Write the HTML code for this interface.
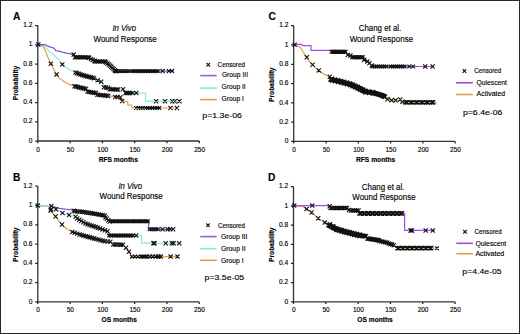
<!DOCTYPE html><html><head><meta charset="utf-8"><style>html,body{margin:0;padding:0;background:#fff;overflow:hidden;width:520px;height:334px;}svg{display:block;}text{font-family:"Liberation Sans",sans-serif;fill:#000;stroke:#000;stroke-width:0.14px;}</style></head><body>
<svg width="520" height="334" viewBox="0 0 520 334">
<rect x="0" y="0" width="520" height="334" fill="#fff"/>
<rect x="5.5" y="5.5" width="512" height="324" fill="none" stroke="#f8f8f8" stroke-width="1"/>
<rect x="0.5" y="0.5" width="519" height="333" fill="none" stroke="#262626" stroke-width="1"/>
<path d="M37.8 25.5V141" stroke="#333333" stroke-width="1.3" fill="none"/>
<path d="M37.8 141H199.3" stroke="#333333" stroke-width="1.3" fill="none"/>
<path d="M35.2 141H37.8M35.2 121.75H37.8M35.2 102.5H37.8M35.2 83.25H37.8M35.2 64H37.8M35.2 44.75H37.8M35.2 25.5H37.8M37.8 141V143.2M70.1 141V143.2M102.4 141V143.2M134.7 141V143.2M167 141V143.2M199.3 141V143.2" stroke="#222" stroke-width="1.25" fill="none"/>
<text x="32.5" y="142.7" font-size="6.6" font-weight="normal" font-style="normal" text-anchor="end">0</text>
<text x="32.5" y="123.45" font-size="6.6" font-weight="normal" font-style="normal" text-anchor="end">0.2</text>
<text x="32.5" y="104.2" font-size="6.6" font-weight="normal" font-style="normal" text-anchor="end">0.4</text>
<text x="32.5" y="84.95" font-size="6.6" font-weight="normal" font-style="normal" text-anchor="end">0.6</text>
<text x="32.5" y="65.7" font-size="6.6" font-weight="normal" font-style="normal" text-anchor="end">0.8</text>
<text x="32.5" y="46.45" font-size="6.6" font-weight="normal" font-style="normal" text-anchor="end">1</text>
<text x="32.5" y="27.2" font-size="6.6" font-weight="normal" font-style="normal" text-anchor="end">1.2</text>
<text x="38.1" y="151.7" font-size="6.5" font-weight="normal" font-style="normal" text-anchor="middle">0</text>
<text x="70.4" y="151.7" font-size="6.5" font-weight="normal" font-style="normal" text-anchor="middle">50</text>
<text x="102.7" y="151.7" font-size="6.5" font-weight="normal" font-style="normal" text-anchor="middle">100</text>
<text x="135" y="151.7" font-size="6.5" font-weight="normal" font-style="normal" text-anchor="middle">150</text>
<text x="167.3" y="151.7" font-size="6.5" font-weight="normal" font-style="normal" text-anchor="middle">200</text>
<text x="199.6" y="151.7" font-size="6.5" font-weight="normal" font-style="normal" text-anchor="middle">250</text>
<text x="98.7" y="161.5" font-size="6.5" font-weight="bold" font-style="normal" text-anchor="start" textLength="39.2" lengthAdjust="spacingAndGlyphs">RFS months</text>
<text x="13" y="19.6" font-size="10.2" font-weight="bold" font-style="normal" text-anchor="start">A</text>
<text x="0" y="0" font-size="6.6" font-weight="bold" font-style="normal" text-anchor="start" textLength="34.6" lengthAdjust="spacingAndGlyphs" transform="translate(17.9 100.3) rotate(-90)">Probability</text>
<text x="112.4" y="31.4" font-size="8.3" font-weight="normal" font-style="italic" text-anchor="start" textLength="23.6" lengthAdjust="spacingAndGlyphs">In Vivo</text>
<text x="93.5" y="41.8" font-size="8.3" font-weight="normal" font-style="normal" text-anchor="start" textLength="63.3" lengthAdjust="spacingAndGlyphs">Wound Response</text>
<text x="217.6" y="67" font-size="6.4" font-weight="normal" font-style="normal" text-anchor="start" textLength="27.3" lengthAdjust="spacingAndGlyphs">Censored</text>
<path d="M200.2 75.6H216.7" stroke="#9868d0" stroke-width="1.7"/>
<text x="221.9" y="77" font-size="7" font-weight="normal" font-style="normal" text-anchor="start" textLength="26.1" lengthAdjust="spacingAndGlyphs">Group III</text>
<path d="M200.2 88.1H216.7" stroke="#8ee6dc" stroke-width="1.6"/>
<text x="221.6" y="88.7" font-size="7" font-weight="normal" font-style="normal" text-anchor="start" textLength="24.1" lengthAdjust="spacingAndGlyphs">Group II</text>
<path d="M200.2 99.6H216.7" stroke="#e0a048" stroke-width="1.6"/>
<text x="221.6" y="100.8" font-size="7" font-weight="normal" font-style="normal" text-anchor="start" textLength="22.4" lengthAdjust="spacingAndGlyphs">Group I</text>
<text x="202.3" y="117.6" font-size="8.1" font-weight="normal" font-style="normal" text-anchor="start" textLength="39.7" lengthAdjust="spacingAndGlyphs">p=1.3e-06</text>
<polyline points="38,44.6 41,45.2 44.6,46.6 48.5,50.6 55,55.8 59,59.8 62.3,64.4 66.3,67.7 72.2,71 75.5,72.5 80.5,74.5 94,78.3 97.7,80.2 102.5,81.7 103.5,87.2 108.5,87.8 118,89.5 123.5,89.5 124.5,93.1 145.5,93.1 145.5,101.2 180,101.2" fill="none" stroke="#8ee6dc" stroke-width="1.2" stroke-linejoin="round"/>
<polyline points="38,44.6 41,45.2 43.3,46.6 45.9,51.9 47.9,57.2 51.2,63.7 53.1,67.7 56.4,74.3 59,77.6 63,80.8 67,83.5 72.2,85.4 75.5,86.5 86,89 87.5,91.6 96,93 97.5,94.8 107.7,95.8 120.6,97.2 121.5,101.3 127.8,101.5 127.8,105 132,105 132,108 178,108" fill="none" stroke="#e0a048" stroke-width="1.2" stroke-linejoin="round"/>
<polyline points="38,44.6 45.2,44.6 47.5,46.2 51.4,47.3 53.7,48 56,50.8 59,51.2 63,52.3 66.8,53.1 70.6,53.8 73.7,54.6 75,57.2 88,57.4 91,59 94.6,61.2 105.5,61.6 108,63 110,65.5 113.6,69 115.5,71.1 174,71.1" fill="none" stroke="#8c4cc8" stroke-width="1.2" stroke-linejoin="round"/>
<path d="M206.5 62.9L210.1 66.5M206.5 66.5L210.1 62.9M36.2 42.3L40.4 46.5M36.2 46.5L40.4 42.3M71.6 52.5L75.8 56.7M71.6 56.7L75.8 52.5M72.9 55.1L77.1 59.3M72.9 59.3L77.1 55.1M74.53 55.12L78.72 59.33M74.53 59.33L78.72 55.12M76.15 55.15L80.35 59.35M76.15 59.35L80.35 55.15M77.78 55.17L81.97 59.38M77.78 59.38L81.97 55.17M79.4 55.2L83.6 59.4M79.4 59.4L83.6 55.2M81.03 55.23L85.22 59.43M81.03 59.43L85.22 55.23M82.65 55.25L86.85 59.45M82.65 59.45L86.85 55.25M84.28 55.27L88.47 59.48M84.28 59.48L88.47 55.27M85.9 55.3L90.1 59.5M85.9 59.5L90.1 55.3M86.9 55.7L91.1 59.9M86.9 59.9L91.1 55.7M88.9 56.9L93.1 61.1M88.9 61.1L93.1 56.9M90.7 57.8L94.9 62M90.7 62L94.9 57.8M92.5 58.7L96.7 62.9M92.5 62.9L96.7 58.7M92.9 59.3L97.1 63.5M92.9 63.5L97.1 59.3M94.57 59.33L98.77 63.53M94.57 63.53L98.77 59.33M96.23 59.37L100.43 63.57M96.23 63.57L100.43 59.37M97.9 59.4L102.1 63.6M97.9 63.6L102.1 59.4M99.57 59.43L103.77 63.63M99.57 63.63L103.77 59.43M101.23 59.47L105.43 63.67M101.23 63.67L105.43 59.47M102.9 59.5L107.1 63.7M102.9 63.7L107.1 59.5M103.9 60.4L108.1 64.6M103.9 64.6L108.1 60.4M105.4 61.4L109.6 65.6M105.4 65.6L109.6 61.4M106.9 62.4L111.1 66.6M106.9 66.6L111.1 62.4M108.05 63.52L112.25 67.72M108.05 67.72L112.25 63.52M109.2 64.65L113.4 68.85M109.2 68.85L113.4 64.65M110.35 65.78L114.55 69.97M110.35 69.97L114.55 65.78M111.5 66.9L115.7 71.1M111.5 71.1L115.7 66.9M112.7 68.05L116.9 72.25M112.7 72.25L116.9 68.05M113.9 69.2L118.1 73.4M113.9 73.4L118.1 69.2M113.2 69.3L116.8 72.9M113.2 72.9L116.8 69.3M114.92 69.3L118.52 72.9M114.92 72.9L118.52 69.3M116.65 69.3L120.25 72.9M116.65 72.9L120.25 69.3M118.38 69.3L121.98 72.9M118.38 72.9L121.98 69.3M120.1 69.3L123.7 72.9M120.1 72.9L123.7 69.3M121.83 69.3L125.42 72.9M121.83 72.9L125.42 69.3M123.55 69.3L127.15 72.9M123.55 72.9L127.15 69.3M125.28 69.3L128.88 72.9M125.28 72.9L128.88 69.3M127 69.3L130.6 72.9M127 72.9L130.6 69.3M129.7 69.3L133.3 72.9M129.7 72.9L133.3 69.3M131.36 69.3L134.96 72.9M131.36 72.9L134.96 69.3M133.01 69.3L136.61 72.9M133.01 72.9L136.61 69.3M134.67 69.3L138.27 72.9M134.67 72.9L138.27 69.3M136.32 69.3L139.93 72.9M136.32 72.9L139.93 69.3M137.98 69.3L141.58 72.9M137.98 72.9L141.58 69.3M139.64 69.3L143.24 72.9M139.64 72.9L143.24 69.3M141.29 69.3L144.89 72.9M141.29 72.9L144.89 69.3M142.95 69.3L146.55 72.9M142.95 72.9L146.55 69.3M144.61 69.3L148.21 72.9M144.61 72.9L148.21 69.3M146.26 69.3L149.86 72.9M146.26 72.9L149.86 69.3M147.92 69.3L151.52 72.9M147.92 72.9L151.52 69.3M149.57 69.3L153.18 72.9M149.57 72.9L153.18 69.3M151.23 69.3L154.83 72.9M151.23 72.9L154.83 69.3M152.89 69.3L156.49 72.9M152.89 72.9L156.49 69.3M154.54 69.3L158.14 72.9M154.54 72.9L158.14 69.3M156.2 69.3L159.8 72.9M156.2 72.9L159.8 69.3M160.5 69L164.7 73.2M160.5 73.2L164.7 69M166.8 69L171 73.2M166.8 73.2L171 69M169.9 69L174.1 73.2M169.9 73.2L174.1 69M60.2 62.3L64.4 66.5M60.2 66.5L64.4 62.3M73.4 70.4L77.6 74.6M73.4 74.6L77.6 70.4M74.9 71.1L79.1 75.3M74.9 75.3L79.1 71.1M76.65 71.75L80.85 75.95M76.65 75.95L80.85 71.75M78.4 72.4L82.6 76.6M78.4 76.6L82.6 72.4M80.09 72.88L84.29 77.07M80.09 77.07L84.29 72.88M81.78 73.35L85.97 77.55M81.78 77.55L85.97 73.35M83.46 73.83L87.66 78.02M83.46 78.02L87.66 73.83M85.15 74.3L89.35 78.5M85.15 78.5L89.35 74.3M86.84 74.78L91.04 78.97M86.84 78.97L91.04 74.78M88.53 75.25L92.72 79.45M88.53 79.45L92.72 75.25M90.21 75.73L94.41 79.92M90.21 79.92L94.41 75.73M91.9 76.2L96.1 80.4M91.9 80.4L96.1 76.2M95.6 78.1L99.8 82.3M95.6 82.3L99.8 78.1M99.1 79.6L103.3 83.8M99.1 83.8L103.3 79.6M101.8 85.1L106 89.3M101.8 89.3L106 85.1M103.9 85.4L108.1 89.6M103.9 89.6L108.1 85.4M106.1 85.7L110.3 89.9M106.1 89.9L110.3 85.7M107.7 87.1L111.9 91.3M107.7 91.3L111.9 87.1M109.34 87.18L113.54 91.38M109.34 91.38L113.54 87.18M110.98 87.26L115.18 91.46M110.98 91.46L115.18 87.26M112.62 87.34L116.82 91.54M112.62 91.54L116.82 87.34M114.26 87.42L118.46 91.62M114.26 91.62L118.46 87.42M115.9 87.5L120.1 91.7M115.9 91.7L120.1 87.5M121 87.2L125.2 91.4M121 91.4L125.2 87.2M123.4 90.9L127.6 95.1M123.4 95.1L127.6 90.9M124.97 90.9L129.17 95.1M124.97 95.1L129.17 90.9M126.53 90.9L130.73 95.1M126.53 95.1L130.73 90.9M128.1 90.9L132.3 95.1M128.1 95.1L132.3 90.9M130.5 90.8L134.7 95M130.5 95L134.7 90.8M134.2 90.8L138.4 95M134.2 95L138.4 90.8M154.1 99.1L158.3 103.3M154.1 103.3L158.3 99.1M162.9 99.1L167.1 103.3M162.9 103.3L167.1 99.1M170.2 99.1L174.4 103.3M170.2 103.3L174.4 99.1M172.6 99.1L176.8 103.3M172.6 103.3L176.8 99.1M177.4 99.1L181.6 103.3M177.4 103.3L181.6 99.1M48.7 61.6L52.9 65.8M48.7 65.8L52.9 61.6M54.5 72.3L58.7 76.5M54.5 76.5L58.7 72.3M72.4 84.1L76.6 88.3M72.4 88.3L76.6 84.1M74.04 84.5L78.24 88.7M74.04 88.7L78.24 84.5M75.69 84.9L79.89 89.1M75.69 89.1L79.89 84.9M77.33 85.3L81.53 89.5M77.33 89.5L81.53 85.3M78.97 85.7L83.17 89.9M78.97 89.9L83.17 85.7M80.61 86.1L84.81 90.3M80.61 90.3L84.81 86.1M82.26 86.5L86.46 90.7M82.26 90.7L86.46 86.5M83.9 86.9L88.1 91.1M83.9 91.1L88.1 86.9M85.4 89.5L89.6 93.7M85.4 93.7L89.6 89.5M87.1 89.78L91.3 93.98M87.1 93.98L91.3 89.78M88.8 90.06L93 94.26M88.8 94.26L93 90.06M90.5 90.34L94.7 94.54M90.5 94.54L94.7 90.34M92.2 90.62L96.4 94.82M92.2 94.82L96.4 90.62M93.9 90.9L98.1 95.1M93.9 95.1L98.1 90.9M95.4 92.7L99.6 96.9M95.4 96.9L99.6 92.7M97.22 92.86L101.42 97.06M97.22 97.06L101.42 92.86M99.04 93.02L103.24 97.22M99.04 97.22L103.24 93.02M100.86 93.18L105.06 97.38M100.86 97.38L105.06 93.18M102.68 93.34L106.88 97.54M102.68 97.54L106.88 93.34M104.5 93.5L108.7 97.7M104.5 97.7L108.7 93.5M106.1 93.9L110.3 98.1M106.1 98.1L110.3 93.9M113.1 94.9L117.3 99.1M113.1 99.1L117.3 94.9M115.5 94.9L119.7 99.1M115.5 99.1L119.7 94.9M118.3 95.1L122.5 99.3M118.3 99.3L122.5 95.1M120.1 99L124.3 103.2M120.1 103.2L124.3 99M134.1 106.1L137.9 109.9M134.1 109.9L137.9 106.1M136.44 106.1L140.24 109.9M136.44 109.9L140.24 106.1M138.78 106.1L142.58 109.9M138.78 109.9L142.58 106.1M141.12 106.1L144.92 109.9M141.12 109.9L144.92 106.1M143.46 106.1L147.26 109.9M143.46 109.9L147.26 106.1M145.8 106.1L149.6 109.9M145.8 109.9L149.6 106.1M148.14 106.1L151.94 109.9M148.14 109.9L151.94 106.1M150.48 106.1L154.28 109.9M150.48 109.9L154.28 106.1M152.82 106.1L156.62 109.9M152.82 109.9L156.62 106.1M155.16 106.1L158.96 109.9M155.16 109.9L158.96 106.1M157.5 106.1L161.3 109.9M157.5 109.9L161.3 106.1M168.4 105.9L172.6 110.1M168.4 110.1L172.6 105.9M174.9 105.9L179.1 110.1M174.9 110.1L179.1 105.9" stroke="#111111" stroke-width="1.1" fill="none"/>
<path d="M37.8 186.2V301.9" stroke="#333333" stroke-width="1.3" fill="none"/>
<path d="M37.8 301.9H199.2" stroke="#333333" stroke-width="1.3" fill="none"/>
<path d="M35.2 301.9H37.8M35.2 282.62H37.8M35.2 263.33H37.8M35.2 244.05H37.8M35.2 224.77H37.8M35.2 205.48H37.8M35.2 186.2H37.8M37.8 301.9V304.1M70.08 301.9V304.1M102.36 301.9V304.1M134.64 301.9V304.1M166.92 301.9V304.1M199.2 301.9V304.1" stroke="#222" stroke-width="1.25" fill="none"/>
<text x="32.5" y="303.6" font-size="6.6" font-weight="normal" font-style="normal" text-anchor="end">0</text>
<text x="32.5" y="284.32" font-size="6.6" font-weight="normal" font-style="normal" text-anchor="end">0.2</text>
<text x="32.5" y="265.03" font-size="6.6" font-weight="normal" font-style="normal" text-anchor="end">0.4</text>
<text x="32.5" y="245.75" font-size="6.6" font-weight="normal" font-style="normal" text-anchor="end">0.6</text>
<text x="32.5" y="226.47" font-size="6.6" font-weight="normal" font-style="normal" text-anchor="end">0.8</text>
<text x="32.5" y="207.18" font-size="6.6" font-weight="normal" font-style="normal" text-anchor="end">1</text>
<text x="32.5" y="187.9" font-size="6.6" font-weight="normal" font-style="normal" text-anchor="end">1.2</text>
<text x="38.1" y="311.8" font-size="6.5" font-weight="normal" font-style="normal" text-anchor="middle">0</text>
<text x="70.38" y="311.8" font-size="6.5" font-weight="normal" font-style="normal" text-anchor="middle">50</text>
<text x="102.66" y="311.8" font-size="6.5" font-weight="normal" font-style="normal" text-anchor="middle">100</text>
<text x="134.94" y="311.8" font-size="6.5" font-weight="normal" font-style="normal" text-anchor="middle">150</text>
<text x="167.22" y="311.8" font-size="6.5" font-weight="normal" font-style="normal" text-anchor="middle">200</text>
<text x="199.5" y="311.8" font-size="6.5" font-weight="normal" font-style="normal" text-anchor="middle">250</text>
<text x="101.5" y="321.5" font-size="6.5" font-weight="bold" font-style="normal" text-anchor="start" textLength="35.5" lengthAdjust="spacingAndGlyphs">OS months</text>
<text x="13" y="181.3" font-size="10.2" font-weight="bold" font-style="normal" text-anchor="start">B</text>
<text x="0" y="0" font-size="6.6" font-weight="bold" font-style="normal" text-anchor="start" textLength="34.6" lengthAdjust="spacingAndGlyphs" transform="translate(17.9 262.0) rotate(-90)">Probability</text>
<text x="118.4" y="189" font-size="8.3" font-weight="normal" font-style="italic" text-anchor="start" textLength="23.6" lengthAdjust="spacingAndGlyphs">In Vivo</text>
<text x="99.5" y="199.4" font-size="8.3" font-weight="normal" font-style="normal" text-anchor="start" textLength="63.3" lengthAdjust="spacingAndGlyphs">Wound Response</text>
<text x="218" y="227.9" font-size="6.4" font-weight="normal" font-style="normal" text-anchor="start" textLength="27" lengthAdjust="spacingAndGlyphs">Censored</text>
<path d="M200.2 236.6H216.7" stroke="#9868d0" stroke-width="1.7"/>
<text x="220.9" y="239.1" font-size="7" font-weight="normal" font-style="normal" text-anchor="start" textLength="26.5" lengthAdjust="spacingAndGlyphs">Group III</text>
<path d="M200.2 248.7H216.7" stroke="#8ee6dc" stroke-width="1.6"/>
<text x="220.9" y="251" font-size="7" font-weight="normal" font-style="normal" text-anchor="start" textLength="24.8" lengthAdjust="spacingAndGlyphs">Group II</text>
<path d="M200.2 260.3H216.7" stroke="#e0a048" stroke-width="1.6"/>
<text x="220.9" y="263" font-size="7" font-weight="normal" font-style="normal" text-anchor="start" textLength="22.7" lengthAdjust="spacingAndGlyphs">Group I</text>
<text x="204.6" y="279.8" font-size="8.1" font-weight="normal" font-style="normal" text-anchor="start" textLength="39.6" lengthAdjust="spacingAndGlyphs">p=3.5e-05</text>
<polyline points="38,205.7 50,205.7 51,208.5 56,209.4 62.5,213 69,215 75.2,216.5 77.2,218.5 85.5,223.5 100,228.5 107.5,231 110,235.6 141.5,235.6 141.5,243.2 181,243.2" fill="none" stroke="#8ee6dc" stroke-width="1.2" stroke-linejoin="round"/>
<polyline points="38,205.7 50,205.7 50.6,210.3 55.6,216.5 58.3,220.3 62,224.5 65,227.5 68.7,230 72.3,231.7 79.6,234.5 94,238.5 105,241.3 110.7,241.8 112.5,244.5 123.2,244.7 126,247.8 129,251.7 131,256.6 178,256.6" fill="none" stroke="#e0a048" stroke-width="1.2" stroke-linejoin="round"/>
<polyline points="38,205.7 50,205.7 51.4,206.2 59,208.4 72.2,210 74,210.9 82,211.5 92.7,213.2 104.7,215.5 106,218.5 109.7,221.3 148.7,221.3 148.7,229.3 174,229.3" fill="none" stroke="#8c4cc8" stroke-width="1.2" stroke-linejoin="round"/>
<polyline points="38,205.7 50,205.7" fill="none" stroke="#8ee6dc" stroke-width="1.2" stroke-linejoin="round"/>
<path d="M206.2 223.5L209.8 227.1M206.2 227.1L209.8 223.5M35.8 203.3L40 207.5M35.8 207.5L40 203.3M49.3 203.9L53.5 208.1M49.3 208.1L53.5 203.9M71.6 208.6L75.8 212.8M71.6 212.8L75.8 208.6M72.9 209.1L77.1 213.3M72.9 213.3L77.1 209.1M75.23 209.3L79.43 213.5M75.23 213.5L79.43 209.3M77.57 209.5L81.77 213.7M77.57 213.7L81.77 209.5M79.9 209.7L84.1 213.9M79.9 213.9L84.1 209.7M82.04 210.02L86.24 214.22M82.04 214.22L86.24 210.02M84.18 210.34L88.38 214.54M84.18 214.54L88.38 210.34M86.32 210.66L90.52 214.86M86.32 214.86L90.52 210.66M88.46 210.98L92.66 215.18M88.46 215.18L92.66 210.98M90.6 211.3L94.8 215.5M90.6 215.5L94.8 211.3M92.6 211.67L96.8 215.87M92.6 215.87L96.8 211.67M94.6 212.03L98.8 216.23M94.6 216.23L98.8 212.03M96.6 212.4L100.8 216.6M96.6 216.6L100.8 212.4M98.6 212.77L102.8 216.97M98.6 216.97L102.8 212.77M100.6 213.13L104.8 217.33M100.6 217.33L104.8 213.13M102.6 213.5L106.8 217.7M102.6 217.7L106.8 213.5M103.4 215.4L107.6 219.6M103.4 219.6L107.6 215.4M104.8 216.73L109 220.93M104.8 220.93L109 216.73M106.2 218.07L110.4 222.27M106.2 222.27L110.4 218.07M107.6 219.4L111.8 223.6M107.6 223.6L111.8 219.4M108.2 219.5L111.8 223.1M108.2 223.1L111.8 219.5M109.91 219.5L113.51 223.1M109.91 223.1L113.51 219.5M111.62 219.5L115.22 223.1M111.62 223.1L115.22 219.5M113.33 219.5L116.93 223.1M113.33 223.1L116.93 219.5M115.04 219.5L118.64 223.1M115.04 223.1L118.64 219.5M116.75 219.5L120.35 223.1M116.75 223.1L120.35 219.5M118.45 219.5L122.05 223.1M118.45 223.1L122.05 219.5M120.16 219.5L123.76 223.1M120.16 223.1L123.76 219.5M121.87 219.5L125.47 223.1M121.87 223.1L125.47 219.5M123.58 219.5L127.18 223.1M123.58 223.1L127.18 219.5M125.29 219.5L128.89 223.1M125.29 223.1L128.89 219.5M127 219.5L130.6 223.1M127 223.1L130.6 219.5M129.2 219.5L132.8 223.1M129.2 223.1L132.8 219.5M130.9 219.5L134.5 223.1M130.9 223.1L134.5 219.5M132.6 219.5L136.2 223.1M132.6 223.1L136.2 219.5M134.3 219.5L137.9 223.1M134.3 223.1L137.9 219.5M136 219.5L139.6 223.1M136 223.1L139.6 219.5M137.7 219.5L141.3 223.1M137.7 223.1L141.3 219.5M139.4 219.5L143 223.1M139.4 223.1L143 219.5M141.1 219.5L144.7 223.1M141.1 223.1L144.7 219.5M142.8 219.5L146.4 223.1M142.8 223.1L146.4 219.5M144.5 219.5L148.1 223.1M144.5 223.1L148.1 219.5M146.2 219.5L149.8 223.1M146.2 223.1L149.8 219.5M147.7 227.4L151.5 231.2M147.7 231.2L151.5 227.4M149.8 227.4L153.6 231.2M149.8 231.2L153.6 227.4M151.9 227.4L155.7 231.2M151.9 231.2L155.7 227.4M154 227.4L157.8 231.2M154 231.2L157.8 227.4M156.1 227.4L159.9 231.2M156.1 231.2L159.9 227.4M160.4 227.2L164.6 231.4M160.4 231.4L164.6 227.2M165.5 227.2L169.7 231.4M165.5 231.4L169.7 227.2M167.9 227.2L172.1 231.4M167.9 231.4L172.1 227.2M171.1 227.2L175.3 231.4M171.1 231.4L175.3 227.2M48.9 207.2L53.1 211.4M48.9 211.4L53.1 207.2M53.9 207.2L58.1 211.4M53.9 211.4L58.1 207.2M60.4 210.9L64.6 215.1M60.4 215.1L64.6 210.9M66.9 212.9L71.1 217.1M66.9 217.1L71.1 212.9M73.5 214.7L77.7 218.9M73.5 218.9L77.7 214.7M75.1 216.4L79.3 220.6M75.1 220.6L79.3 216.4M77.18 217.65L81.38 221.85M77.18 221.85L81.38 217.65M79.25 218.9L83.45 223.1M79.25 223.1L83.45 218.9M81.33 220.15L85.52 224.35M81.33 224.35L85.52 220.15M83.4 221.4L87.6 225.6M83.4 225.6L87.6 221.4M85.47 222.11L89.67 226.31M85.47 226.31L89.67 222.11M87.54 222.83L91.74 227.03M87.54 227.03L91.74 222.83M89.61 223.54L93.81 227.74M89.61 227.74L93.81 223.54M91.69 224.26L95.89 228.46M91.69 228.46L95.89 224.26M93.76 224.97L97.96 229.17M93.76 229.17L97.96 224.97M95.83 225.69L100.03 229.89M95.83 229.89L100.03 225.69M97.9 226.4L102.1 230.6M97.9 230.6L102.1 226.4M100.4 227.3L104.6 231.5M100.4 231.5L104.6 227.3M102.9 228.2L107.1 232.4M102.9 232.4L107.1 228.2M105.4 229.1L109.6 233.3M105.4 233.3L109.6 229.1M107.15 233.75L110.85 237.45M107.15 237.45L110.85 233.75M108.86 233.75L112.56 237.45M108.86 237.45L112.56 233.75M110.58 233.75L114.28 237.45M110.58 237.45L114.28 233.75M112.29 233.75L115.99 237.45M112.29 237.45L115.99 233.75M114.01 233.75L117.71 237.45M114.01 237.45L117.71 233.75M115.72 233.75L119.42 237.45M115.72 237.45L119.42 233.75M117.44 233.75L121.14 237.45M117.44 237.45L121.14 233.75M119.15 233.75L122.85 237.45M119.15 237.45L122.85 233.75M120.86 233.75L124.56 237.45M120.86 237.45L124.56 233.75M122.58 233.75L126.28 237.45M122.58 237.45L126.28 233.75M124.29 233.75L127.99 237.45M124.29 237.45L127.99 233.75M126.01 233.75L129.71 237.45M126.01 237.45L129.71 233.75M127.72 233.75L131.42 237.45M127.72 237.45L131.42 233.75M129.44 233.75L133.14 237.45M129.44 237.45L133.14 233.75M131.15 233.75L134.85 237.45M131.15 237.45L134.85 233.75M134.1 233.5L138.3 237.7M134.1 237.7L138.3 233.5M151.3 241.1L155.5 245.3M151.3 245.3L155.5 241.1M152.5 241.1L156.7 245.3M152.5 245.3L156.7 241.1M163.6 241.1L167.8 245.3M163.6 245.3L167.8 241.1M169.7 241.1L173.9 245.3M169.7 245.3L173.9 241.1M171.5 241.1L175.7 245.3M171.5 245.3L175.7 241.1M177.1 241.1L181.3 245.3M177.1 245.3L181.3 241.1M48.5 208.4L52.7 212.6M48.5 212.6L52.7 208.4M53.5 214.4L57.7 218.6M53.5 218.6L57.7 214.4M59.9 222.4L64.1 226.6M59.9 226.6L64.1 222.4M70.2 229.8L74.4 234M70.2 234L74.4 229.8M72.63 230.67L76.83 234.87M72.63 234.87L76.83 230.67M75.07 231.53L79.27 235.73M75.07 235.73L79.27 231.53M77.5 232.4L81.7 236.6M77.5 236.6L81.7 232.4M79.56 232.97L83.76 237.17M79.56 237.17L83.76 232.97M81.61 233.54L85.81 237.74M81.61 237.74L85.81 233.54M83.67 234.11L87.87 238.31M83.67 238.31L87.87 234.11M85.73 234.69L89.93 238.89M85.73 238.89L89.93 234.69M87.79 235.26L91.99 239.46M87.79 239.46L91.99 235.26M89.84 235.83L94.04 240.03M89.84 240.03L94.04 235.83M91.9 236.4L96.1 240.6M91.9 240.6L96.1 236.4M94.1 236.96L98.3 241.16M94.1 241.16L98.3 236.96M96.3 237.52L100.5 241.72M96.3 241.72L100.5 237.52M98.5 238.08L102.7 242.28M98.5 242.28L102.7 238.08M100.7 238.64L104.9 242.84M100.7 242.84L104.9 238.64M102.9 239.2L107.1 243.4M102.9 243.4L107.1 239.2M105.55 239.4L109.75 243.6M105.55 243.6L109.75 239.4M108.2 239.6L112.4 243.8M108.2 243.8L112.4 239.6M111.1 242.4L115.3 246.6M111.1 246.6L115.3 242.4M113.06 242.44L117.26 246.64M113.06 246.64L117.26 242.44M115.02 242.48L119.22 246.68M115.02 246.68L119.22 242.48M116.98 242.52L121.18 246.72M116.98 246.72L121.18 242.52M118.94 242.56L123.14 246.76M118.94 246.76L123.14 242.56M120.9 242.6L125.1 246.8M120.9 246.8L125.1 242.6M123.9 245.7L128.1 249.9M123.9 249.9L128.1 245.7M126.9 249.6L131.1 253.8M126.9 253.8L131.1 249.6M130 254.7L133.8 258.5M130 258.5L133.8 254.7M133.03 254.7L136.83 258.5M133.03 258.5L136.83 254.7M136.07 254.7L139.87 258.5M136.07 258.5L139.87 254.7M139.1 254.7L142.9 258.5M139.1 258.5L142.9 254.7M139.1 254.7L142.9 258.5M139.1 258.5L142.9 254.7M140.6 254.7L144.4 258.5M140.6 258.5L144.4 254.7M142.1 254.7L145.9 258.5M142.1 258.5L145.9 254.7M143.6 254.7L147.4 258.5M143.6 258.5L147.4 254.7M145.1 254.7L148.9 258.5M145.1 258.5L148.9 254.7M147.7 254.5L151.9 258.7M147.7 258.7L151.9 254.5M150.6 254.5L154.8 258.7M150.6 258.7L154.8 254.5M153.5 254.5L157.7 258.7M153.5 258.7L157.7 254.5M156.3 254.5L160.5 258.7M156.3 258.7L160.5 254.5M158.7 254.5L162.9 258.7M158.7 258.7L162.9 254.5M168.5 254.5L172.7 258.7M168.5 258.7L172.7 254.5M175.4 254.5L179.6 258.7M175.4 258.7L179.6 254.5" stroke="#111111" stroke-width="1.1" fill="none"/>
<path d="M293.7 25.7V141.4" stroke="#333333" stroke-width="1.3" fill="none"/>
<path d="M293.7 141.4H455.2" stroke="#333333" stroke-width="1.3" fill="none"/>
<path d="M291.1 141.4H293.7M291.1 122.12H293.7M291.1 102.83H293.7M291.1 83.55H293.7M291.1 64.27H293.7M291.1 44.98H293.7M291.1 25.7H293.7M293.7 141.4V143.6M326 141.4V143.6M358.3 141.4V143.6M390.6 141.4V143.6M422.9 141.4V143.6M455.2 141.4V143.6" stroke="#222" stroke-width="1.25" fill="none"/>
<text x="288.4" y="143.1" font-size="6.6" font-weight="normal" font-style="normal" text-anchor="end">0</text>
<text x="288.4" y="123.82" font-size="6.6" font-weight="normal" font-style="normal" text-anchor="end">0.2</text>
<text x="288.4" y="104.53" font-size="6.6" font-weight="normal" font-style="normal" text-anchor="end">0.4</text>
<text x="288.4" y="85.25" font-size="6.6" font-weight="normal" font-style="normal" text-anchor="end">0.6</text>
<text x="288.4" y="65.97" font-size="6.6" font-weight="normal" font-style="normal" text-anchor="end">0.8</text>
<text x="288.4" y="46.68" font-size="6.6" font-weight="normal" font-style="normal" text-anchor="end">1</text>
<text x="288.4" y="27.4" font-size="6.6" font-weight="normal" font-style="normal" text-anchor="end">1.2</text>
<text x="294" y="151.8" font-size="6.5" font-weight="normal" font-style="normal" text-anchor="middle">0</text>
<text x="326.3" y="151.8" font-size="6.5" font-weight="normal" font-style="normal" text-anchor="middle">50</text>
<text x="358.6" y="151.8" font-size="6.5" font-weight="normal" font-style="normal" text-anchor="middle">100</text>
<text x="390.9" y="151.8" font-size="6.5" font-weight="normal" font-style="normal" text-anchor="middle">150</text>
<text x="423.2" y="151.8" font-size="6.5" font-weight="normal" font-style="normal" text-anchor="middle">200</text>
<text x="455.5" y="151.8" font-size="6.5" font-weight="normal" font-style="normal" text-anchor="middle">250</text>
<text x="356" y="161.5" font-size="6.5" font-weight="bold" font-style="normal" text-anchor="start" textLength="39.2" lengthAdjust="spacingAndGlyphs">RFS months</text>
<text x="268.5" y="19.5" font-size="10.2" font-weight="bold" font-style="normal" text-anchor="start">C</text>
<text x="0" y="0" font-size="6.6" font-weight="bold" font-style="normal" text-anchor="start" textLength="34.6" lengthAdjust="spacingAndGlyphs" transform="translate(273.9 102.0) rotate(-90)">Probability</text>
<text x="358.8" y="30.9" font-size="8.3" font-weight="normal" font-style="normal" text-anchor="start" textLength="42.4" lengthAdjust="spacingAndGlyphs">Chang et al.</text>
<text x="349.7" y="41.8" font-size="8.3" font-weight="normal" font-style="normal" text-anchor="start" textLength="63.4" lengthAdjust="spacingAndGlyphs">Wound Response</text>
<text x="474.3" y="73.3" font-size="6.4" font-weight="normal" font-style="normal" text-anchor="start" textLength="26.9" lengthAdjust="spacingAndGlyphs">Censored</text>
<path d="M456 82.8H472.8" stroke="#a24ee0" stroke-width="1.6"/>
<text x="476.6" y="84.5" font-size="7" font-weight="normal" font-style="normal" text-anchor="start" textLength="30.4" lengthAdjust="spacingAndGlyphs">Quiescent</text>
<path d="M456 94.5H472.8" stroke="#e0a048" stroke-width="1.6"/>
<text x="476.6" y="96" font-size="7" font-weight="normal" font-style="normal" text-anchor="start" textLength="28.6" lengthAdjust="spacingAndGlyphs">Activated</text>
<text x="462.9" y="114.9" font-size="8.1" font-weight="normal" font-style="normal" text-anchor="start" textLength="39.6" lengthAdjust="spacingAndGlyphs">p=6.4e-06</text>
<polyline points="294,44.6 295.5,45.2 299,46.5 301.5,48.7 303.2,52 305,55.1 306.8,57.3 309.4,61.5 312.6,64.7 315.7,68.3 318.8,70.4 323,73.6 327.2,75.7 329.8,77 330.5,79.4 338,81 350,84.2 357.7,87.6 365.4,91.6 373,92.8 380.8,95 387,97.8 392,100.2 400,100.2 401.5,102.8 437,102.8" fill="none" stroke="#e0a048" stroke-width="1.2" stroke-linejoin="round"/>
<polyline points="294,44.4 302,44.4 302,45.6 311,45.6 311,50.3 331,50.3 331.5,51.8 345.8,51.8 348.5,55.3 351,57.3 363.6,57.3 368,61.5 372.2,66.5 434,66.5" fill="none" stroke="#a24ee0" stroke-width="1.2" stroke-linejoin="round"/>
<path d="M462.6 69.2L466.2 72.8M462.6 72.8L466.2 69.2M292.5 42.7L296.7 46.9M292.5 46.9L296.7 42.7M329.7 49.9L333.5 53.7M329.7 53.7L333.5 49.9M330.87 49.9L334.67 53.7M330.87 53.7L334.67 49.9M332.03 49.9L335.83 53.7M332.03 53.7L335.83 49.9M333.2 49.9L337 53.7M333.2 53.7L337 49.9M334.37 49.9L338.17 53.7M334.37 53.7L338.17 49.9M335.53 49.9L339.33 53.7M335.53 53.7L339.33 49.9M336.7 49.9L340.5 53.7M336.7 53.7L340.5 49.9M337.87 49.9L341.67 53.7M337.87 53.7L341.67 49.9M339.03 49.9L342.83 53.7M339.03 53.7L342.83 49.9M340.2 49.9L344 53.7M340.2 53.7L344 49.9M341.37 49.9L345.17 53.7M341.37 53.7L345.17 49.9M342.53 49.9L346.33 53.7M342.53 53.7L346.33 49.9M343.7 49.9L347.5 53.7M343.7 53.7L347.5 49.9M345.6 52.9L349.8 57.1M345.6 57.1L349.8 52.9M348.3 53.5L352.5 57.7M348.3 57.7L352.5 53.5M350.3 55.4L354.1 59.2M350.3 59.2L354.1 55.4M351.48 55.4L355.28 59.2M351.48 59.2L355.28 55.4M352.66 55.4L356.46 59.2M352.66 59.2L356.46 55.4M353.83 55.4L357.63 59.2M353.83 59.2L357.63 55.4M355.01 55.4L358.81 59.2M355.01 59.2L358.81 55.4M356.19 55.4L359.99 59.2M356.19 59.2L359.99 55.4M357.37 55.4L361.17 59.2M357.37 59.2L361.17 55.4M358.54 55.4L362.34 59.2M358.54 59.2L362.34 55.4M359.72 55.4L363.52 59.2M359.72 59.2L363.52 55.4M360.9 55.4L364.7 59.2M360.9 59.2L364.7 55.4M362 57.8L366.2 62M362 62L366.2 57.8M365.2 59.5L369.4 63.7M365.2 63.7L369.4 59.5M367.3 61.2L371.5 65.4M367.3 65.4L371.5 61.2M369.7 63.5L373.9 67.7M369.7 67.7L373.9 63.5M370.75 64.75L374.25 68.25M370.75 68.25L374.25 64.75M372.75 64.75L376.25 68.25M372.75 68.25L376.25 64.75M374.75 64.75L378.25 68.25M374.75 68.25L378.25 64.75M376.75 64.75L380.25 68.25M376.75 68.25L380.25 64.75M378.75 64.75L382.25 68.25M378.75 68.25L382.25 64.75M380.75 64.75L384.25 68.25M380.75 68.25L384.25 64.75M382.75 64.75L386.25 68.25M382.75 68.25L386.25 64.75M384.75 64.75L388.25 68.25M384.75 68.25L388.25 64.75M388.75 64.75L392.25 68.25M388.75 68.25L392.25 64.75M390.78 64.75L394.28 68.25M390.78 68.25L394.28 64.75M392.81 64.75L396.31 68.25M392.81 68.25L396.31 64.75M394.84 64.75L398.34 68.25M394.84 68.25L398.34 64.75M396.86 64.75L400.36 68.25M396.86 68.25L400.36 64.75M398.89 64.75L402.39 68.25M398.89 68.25L402.39 64.75M400.92 64.75L404.42 68.25M400.92 68.25L404.42 64.75M402.95 64.75L406.45 68.25M402.95 68.25L406.45 64.75M407.4 64.7L411 68.3M407.4 68.3L411 64.7M411.4 64.7L415 68.3M411.4 68.3L415 64.7M423.1 64.4L427.3 68.6M423.1 68.6L427.3 64.4M430.5 64.4L434.7 68.6M430.5 68.6L434.7 64.4M304.7 55.2L308.9 59.4M304.7 59.4L308.9 55.2M310.5 62.6L314.7 66.8M310.5 66.8L314.7 62.6M316.7 68.3L320.9 72.5M316.7 72.5L320.9 68.3M327.7 74.7L331.9 78.9M327.7 78.9L331.9 74.7M328.4 77.3L332.6 81.5M328.4 81.5L332.6 77.3M329.34 77.5L333.54 81.7M329.34 81.7L333.54 77.5M330.27 77.7L334.48 81.9M330.27 81.9L334.48 77.7M331.21 77.9L335.41 82.1M331.21 82.1L335.41 77.9M332.15 78.1L336.35 82.3M332.15 82.3L336.35 78.1M333.09 78.3L337.29 82.5M333.09 82.5L337.29 78.3M334.02 78.5L338.23 82.7M334.02 82.7L338.23 78.5M334.96 78.7L339.16 82.9M334.96 82.9L339.16 78.7M335.9 78.9L340.1 83.1M335.9 83.1L340.1 78.9M336.82 79.15L341.02 83.35M336.82 83.35L341.02 79.15M337.75 79.39L341.95 83.59M337.75 83.59L341.95 79.39M338.67 79.64L342.87 83.84M338.67 83.84L342.87 79.64M339.59 79.88L343.79 84.08M339.59 84.08L343.79 79.88M340.52 80.13L344.72 84.33M340.52 84.33L344.72 80.13M341.44 80.38L345.64 84.58M341.44 84.58L345.64 80.38M342.36 80.62L346.56 84.82M342.36 84.82L346.56 80.62M343.28 80.87L347.48 85.07M343.28 85.07L347.48 80.87M344.21 81.12L348.41 85.32M344.21 85.32L348.41 81.12M345.13 81.36L349.33 85.56M345.13 85.56L349.33 81.36M346.05 81.61L350.25 85.81M346.05 85.81L350.25 81.61M346.98 81.85L351.18 86.05M346.98 86.05L351.18 81.85M347.9 82.1L352.1 86.3M347.9 86.3L352.1 82.1M348.76 82.48L352.96 86.68M348.76 86.68L352.96 82.48M349.61 82.86L353.81 87.06M349.61 87.06L353.81 82.86M350.47 83.23L354.67 87.43M350.47 87.43L354.67 83.23M351.32 83.61L355.52 87.81M351.32 87.81L355.52 83.61M352.18 83.99L356.38 88.19M352.18 88.19L356.38 83.99M353.03 84.37L357.23 88.57M353.03 88.57L357.23 84.37M353.89 84.74L358.09 88.94M353.89 88.94L358.09 84.74M354.74 85.12L358.94 89.32M354.74 89.32L358.94 85.12M355.6 85.5L359.8 89.7M355.6 89.7L359.8 85.5M356.46 85.94L360.66 90.14M356.46 90.14L360.66 85.94M357.31 86.39L361.51 90.59M357.31 90.59L361.51 86.39M358.17 86.83L362.37 91.03M358.17 91.03L362.37 86.83M359.02 87.28L363.22 91.48M359.02 91.48L363.22 87.28M359.88 87.72L364.08 91.92M359.88 91.92L364.08 87.72M360.73 88.17L364.93 92.37M360.73 92.37L364.93 88.17M361.59 88.61L365.79 92.81M361.59 92.81L365.79 88.61M362.44 89.06L366.64 93.26M362.44 93.26L366.64 89.06M363.3 89.5L367.5 93.7M363.3 93.7L367.5 89.5M364.25 89.65L368.45 93.85M364.25 93.85L368.45 89.65M365.2 89.8L369.4 94M365.2 94L369.4 89.8M366.15 89.95L370.35 94.15M366.15 94.15L370.35 89.95M367.1 90.1L371.3 94.3M367.1 94.3L371.3 90.1M368.05 90.25L372.25 94.45M368.05 94.45L372.25 90.25M369 90.4L373.2 94.6M369 94.6L373.2 90.4M369.95 90.55L374.15 94.75M369.95 94.75L374.15 90.55M370.9 90.7L375.1 94.9M370.9 94.9L375.1 90.7M371.77 90.94L375.97 95.14M371.77 95.14L375.97 90.94M372.63 91.19L376.83 95.39M372.63 95.39L376.83 91.19M373.5 91.43L377.7 95.63M373.5 95.63L377.7 91.43M374.37 91.68L378.57 95.88M374.37 95.88L378.57 91.68M375.23 91.92L379.43 96.12M375.23 96.12L379.43 91.92M376.1 92.17L380.3 96.37M376.1 96.37L380.3 92.17M376.97 92.41L381.17 96.61M376.97 96.61L381.17 92.41M377.83 92.66L382.03 96.86M377.83 96.86L382.03 92.66M378.7 92.9L382.9 97.1M378.7 97.1L382.9 92.9M379.54 93.26L383.74 97.46M379.54 97.46L383.74 93.26M380.38 93.62L384.58 97.82M380.38 97.82L384.58 93.62M381.22 93.98L385.42 98.18M381.22 98.18L385.42 93.98M382.06 94.34L386.26 98.54M382.06 98.54L386.26 94.34M382.9 94.7L387.1 98.9M382.9 98.9L387.1 94.7M329.9 76.5L334.1 80.7M329.9 80.7L334.1 76.5M332.9 77.3L337.1 81.5M332.9 81.5L337.1 77.3M335.9 78.1L340.1 82.3M335.9 82.3L340.1 78.1M338.9 78.9L343.1 83.1M338.9 83.1L343.1 78.9M341.9 79.7L346.1 83.9M341.9 83.9L346.1 79.7M344.9 80.5L349.1 84.7M344.9 84.7L349.1 80.5M347.9 81.3L352.1 85.5M347.9 85.5L352.1 81.3M350.47 82.43L354.67 86.63M350.47 86.63L354.67 82.43M353.03 83.57L357.23 87.77M353.03 87.77L357.23 83.57M355.6 84.7L359.8 88.9M355.6 88.9L359.8 84.7M358.17 86.03L362.37 90.23M358.17 90.23L362.37 86.03M360.73 87.37L364.93 91.57M360.73 91.57L364.93 87.37M363.3 88.7L367.5 92.9M363.3 92.9L367.5 88.7M367.1 89.3L371.3 93.5M367.1 93.5L371.3 89.3M370.9 89.9L375.1 94.1M370.9 94.1L375.1 89.9M329.9 78.3L334.1 82.5M329.9 82.5L334.1 78.3M332.9 79.05L337.1 83.25M332.9 83.25L337.1 79.05M335.9 79.8L340.1 84M335.9 84L340.1 79.8M338.9 80.6L343.1 84.8M338.9 84.8L343.1 80.6M341.9 81.4L346.1 85.6M341.9 85.6L346.1 81.4M344.9 82.2L349.1 86.4M344.9 86.4L349.1 82.2M347.9 83L352.1 87.2M347.9 87.2L352.1 83M350.47 84.13L354.67 88.33M350.47 88.33L354.67 84.13M353.03 85.27L357.23 89.47M353.03 89.47L357.23 85.27M355.6 86.4L359.8 90.6M355.6 90.6L359.8 86.4M358.17 87.7L362.37 91.9M358.17 91.9L362.37 87.7M360.73 89L364.93 93.2M360.73 93.2L364.93 89M363.3 90.3L367.5 94.5M363.3 94.5L367.5 90.3M367.1 90.9L371.3 95.1M367.1 95.1L371.3 90.9M370.9 91.5L375.1 95.7M370.9 95.7L375.1 91.5M381.4 94.1L385.6 98.3M381.4 98.3L385.6 94.1M385.4 97.1L389.6 101.3M385.4 101.3L389.6 97.1M389.4 98.1L393.6 102.3M389.4 102.3L393.6 98.1M393.5 98.1L397.7 102.3M393.5 102.3L397.7 98.1M398.2 97.4L402.4 101.6M398.2 101.6L402.4 97.4M400.3 99.7L404.5 103.9M400.3 103.9L404.5 99.7" stroke="#111111" stroke-width="1.1" fill="none"/>
<path d="M403.4 100.3L407.6 104.5M403.4 104.5L407.6 100.3M405 100.3L409.2 104.5M405 104.5L409.2 100.3M408.6 100.3L412.8 104.5M408.6 104.5L412.8 100.3M410.2 100.3L414.4 104.5M410.2 104.5L414.4 100.3M413.8 100.3L418 104.5M413.8 104.5L418 100.3M415.4 100.3L419.6 104.5M415.4 104.5L419.6 100.3M419 100.3L423.2 104.5M419 104.5L423.2 100.3M420.6 100.3L424.8 104.5M420.6 104.5L424.8 100.3M424.2 100.3L428.4 104.5M424.2 104.5L428.4 100.3M425.8 100.3L430 104.5M425.8 104.5L430 100.3M429.4 100.3L433.6 104.5M429.4 104.5L433.6 100.3M431 100.3L435.2 104.5M431 104.5L435.2 100.3" stroke="#111111" stroke-width="1.3" fill="none"/>
<path d="M293.5 186.6V301.9" stroke="#333333" stroke-width="1.3" fill="none"/>
<path d="M293.5 301.9H455.1" stroke="#333333" stroke-width="1.3" fill="none"/>
<path d="M290.9 301.9H293.5M290.9 282.68H293.5M290.9 263.47H293.5M290.9 244.25H293.5M290.9 225.03H293.5M290.9 205.82H293.5M290.9 186.6H293.5M293.5 301.9V304.1M325.82 301.9V304.1M358.14 301.9V304.1M390.46 301.9V304.1M422.78 301.9V304.1M455.1 301.9V304.1" stroke="#222" stroke-width="1.25" fill="none"/>
<text x="288.2" y="303.6" font-size="6.6" font-weight="normal" font-style="normal" text-anchor="end">0</text>
<text x="288.2" y="284.38" font-size="6.6" font-weight="normal" font-style="normal" text-anchor="end">0.2</text>
<text x="288.2" y="265.17" font-size="6.6" font-weight="normal" font-style="normal" text-anchor="end">0.4</text>
<text x="288.2" y="245.95" font-size="6.6" font-weight="normal" font-style="normal" text-anchor="end">0.6</text>
<text x="288.2" y="226.73" font-size="6.6" font-weight="normal" font-style="normal" text-anchor="end">0.8</text>
<text x="288.2" y="207.52" font-size="6.6" font-weight="normal" font-style="normal" text-anchor="end">1</text>
<text x="288.2" y="188.3" font-size="6.6" font-weight="normal" font-style="normal" text-anchor="end">1.2</text>
<text x="293.8" y="311.8" font-size="6.5" font-weight="normal" font-style="normal" text-anchor="middle">0</text>
<text x="326.12" y="311.8" font-size="6.5" font-weight="normal" font-style="normal" text-anchor="middle">50</text>
<text x="358.44" y="311.8" font-size="6.5" font-weight="normal" font-style="normal" text-anchor="middle">100</text>
<text x="390.76" y="311.8" font-size="6.5" font-weight="normal" font-style="normal" text-anchor="middle">150</text>
<text x="423.08" y="311.8" font-size="6.5" font-weight="normal" font-style="normal" text-anchor="middle">200</text>
<text x="455.4" y="311.8" font-size="6.5" font-weight="normal" font-style="normal" text-anchor="middle">250</text>
<text x="357.3" y="321.6" font-size="6.5" font-weight="bold" font-style="normal" text-anchor="start" textLength="35.5" lengthAdjust="spacingAndGlyphs">OS months</text>
<text x="268" y="181.3" font-size="10.2" font-weight="bold" font-style="normal" text-anchor="start">D</text>
<text x="0" y="0" font-size="6.6" font-weight="bold" font-style="normal" text-anchor="start" textLength="34.6" lengthAdjust="spacingAndGlyphs" transform="translate(273.9 262.0) rotate(-90)">Probability</text>
<text x="361.8" y="189.5" font-size="8.3" font-weight="normal" font-style="normal" text-anchor="start" textLength="42.6" lengthAdjust="spacingAndGlyphs">Chang et al.</text>
<text x="352.3" y="199.9" font-size="8.3" font-weight="normal" font-style="normal" text-anchor="start" textLength="63.3" lengthAdjust="spacingAndGlyphs">Wound Response</text>
<text x="474.6" y="234.1" font-size="6.4" font-weight="normal" font-style="normal" text-anchor="start" textLength="27.1" lengthAdjust="spacingAndGlyphs">Censored</text>
<path d="M456.3 243.3H473" stroke="#a24ee0" stroke-width="1.6"/>
<text x="475.4" y="245.6" font-size="7" font-weight="normal" font-style="normal" text-anchor="start" textLength="30.9" lengthAdjust="spacingAndGlyphs">Quiescent</text>
<path d="M456.3 253.7H473" stroke="#e0a048" stroke-width="1.6"/>
<text x="475.4" y="256" font-size="7" font-weight="normal" font-style="normal" text-anchor="start" textLength="28.8" lengthAdjust="spacingAndGlyphs">Activated</text>
<text x="462.3" y="273.7" font-size="8.1" font-weight="normal" font-style="normal" text-anchor="start" textLength="39.4" lengthAdjust="spacingAndGlyphs">p=4.4e-05</text>
<polyline points="294,205.6 302.8,206.3 303.7,207.2 306.6,208.9 311.6,212.5 314.5,215 318.2,218.3 321.6,220.5 324.8,222.6 329.6,225.7 336.5,229.2 344.2,231.5 351.9,233.5 359.6,235.4 366,236.5 368,239.5 378.5,240.5 385.4,242 393.8,245.5 397,248.2 436.4,248.2" fill="none" stroke="#e0a048" stroke-width="1.2" stroke-linejoin="round"/>
<polyline points="294,205.6 329.7,205.6 331,208 347,208 348.5,210.5 358.5,210.5 359,213.4 404.6,213.4 404.6,230.3 434.6,230.3" fill="none" stroke="#a24ee0" stroke-width="1.2" stroke-linejoin="round"/>
<path d="M463.2 230L466.8 233.6M463.2 233.6L466.8 230M292.1 203.3L296.3 207.5M292.1 207.5L296.3 203.3M310.1 203.5L314.3 207.7M310.1 207.7L314.3 203.5M327.6 204.1L331.8 208.3M327.6 208.3L331.8 204.1M328.4 205.9L332.6 210.1M328.4 210.1L332.6 205.9M330.05 205.9L334.25 210.1M330.05 210.1L334.25 205.9M331.7 205.9L335.9 210.1M331.7 210.1L335.9 205.9M333.35 205.9L337.55 210.1M333.35 210.1L337.55 205.9M335 205.9L339.2 210.1M335 210.1L339.2 205.9M336.65 205.9L340.85 210.1M336.65 210.1L340.85 205.9M338.3 205.9L342.5 210.1M338.3 210.1L342.5 205.9M339.95 205.9L344.15 210.1M339.95 210.1L344.15 205.9M341.6 205.9L345.8 210.1M341.6 210.1L345.8 205.9M343.25 205.9L347.45 210.1M343.25 210.1L347.45 205.9M344.9 205.9L349.1 210.1M344.9 210.1L349.1 205.9M347.1 207.8L351.3 212M347.1 212L351.3 207.8M348.9 208.4L353.1 212.6M348.9 212.6L353.1 208.4M350.77 208.4L354.98 212.6M350.77 212.6L354.98 208.4M352.65 208.4L356.85 212.6M352.65 212.6L356.85 208.4M354.52 208.4L358.73 212.6M354.52 212.6L358.73 208.4M356.4 208.4L360.6 212.6M356.4 212.6L360.6 208.4M408.5 228.4L412.7 232.6M408.5 232.6L412.7 228.4M409.9 228.4L414.1 232.6M409.9 232.6L414.1 228.4M423.6 228.4L427.8 232.6M423.6 232.6L427.8 228.4M430.7 228.4L434.9 232.6M430.7 232.6L434.9 228.4M304.5 206.8L308.7 211M304.5 211L308.7 206.8M309.5 210.4L313.7 214.6M309.5 214.6L313.7 210.4M316.1 216.2L320.3 220.4M316.1 220.4L320.3 216.2M322.7 220.5L326.9 224.7M322.7 224.7L326.9 220.5M326.4 222.9L330.6 227.1M326.4 227.1L330.6 222.9M327.2 223.32L331.4 227.52M327.2 227.52L331.4 223.32M328 223.74L332.2 227.94M328 227.94L332.2 223.74M328.8 224.16L333 228.36M328.8 228.36L333 224.16M329.6 224.58L333.8 228.78M329.6 228.78L333.8 224.58M330.4 225L334.6 229.2M330.4 229.2L334.6 225M331.2 225.42L335.4 229.62M331.2 229.62L335.4 225.42M332 225.84L336.2 230.04M332 230.04L336.2 225.84M332.8 226.26L337 230.46M332.8 230.46L337 226.26M333.6 226.68L337.8 230.88M333.6 230.88L337.8 226.68M334.4 227.1L338.6 231.3M334.4 231.3L338.6 227.1M335.36 227.39L339.56 231.59M335.36 231.59L339.56 227.39M336.32 227.67L340.53 231.87M336.32 231.87L340.53 227.67M337.29 227.96L341.49 232.16M337.29 232.16L341.49 227.96M338.25 228.25L342.45 232.45M338.25 232.45L342.45 228.25M339.21 228.54L343.41 232.74M339.21 232.74L343.41 228.54M340.17 228.83L344.38 233.03M340.17 233.03L344.38 228.83M341.14 229.11L345.34 233.31M341.14 233.31L345.34 229.11M342.1 229.4L346.3 233.6M342.1 233.6L346.3 229.4M343.06 229.65L347.26 233.85M343.06 233.85L347.26 229.65M344.02 229.9L348.23 234.1M344.02 234.1L348.23 229.9M344.99 230.15L349.19 234.35M344.99 234.35L349.19 230.15M345.95 230.4L350.15 234.6M345.95 234.6L350.15 230.4M346.91 230.65L351.11 234.85M346.91 234.85L351.11 230.65M347.87 230.9L352.07 235.1M347.87 235.1L352.07 230.9M348.84 231.15L353.04 235.35M348.84 235.35L353.04 231.15M349.8 231.4L354 235.6M349.8 235.6L354 231.4M350.76 231.64L354.96 235.84M350.76 235.84L354.96 231.64M351.72 231.88L355.93 236.07M351.72 236.07L355.93 231.88M352.69 232.11L356.89 236.31M352.69 236.31L356.89 232.11M353.65 232.35L357.85 236.55M353.65 236.55L357.85 232.35M354.61 232.59L358.81 236.79M354.61 236.79L358.81 232.59M355.57 232.83L359.78 237.03M355.57 237.03L359.78 232.83M356.54 233.06L360.74 237.26M356.54 237.26L360.74 233.06M357.5 233.3L361.7 237.5M357.5 237.5L361.7 233.3M358.41 233.43L362.61 237.63M358.41 237.63L362.61 233.43M359.33 233.56L363.53 237.76M359.33 237.76L363.53 233.56M360.24 233.69L364.44 237.89M360.24 237.89L364.44 233.69M361.16 233.81L365.36 238.01M361.16 238.01L365.36 233.81M362.07 233.94L366.27 238.14M362.07 238.14L366.27 233.94M362.99 234.07L367.19 238.27M362.99 238.27L367.19 234.07M363.9 234.2L368.1 238.4M363.9 238.4L368.1 234.2M327.9 222.1L332.1 226.3M327.9 226.3L332.1 222.1M331.15 224.2L335.35 228.4M331.15 228.4L335.35 224.2M334.4 226.3L338.6 230.5M334.4 230.5L338.6 226.3M336.97 227.07L341.17 231.27M336.97 231.27L341.17 227.07M339.53 227.83L343.73 232.03M339.53 232.03L343.73 227.83M342.1 228.6L346.3 232.8M342.1 232.8L346.3 228.6M344.67 229.27L348.87 233.47M344.67 233.47L348.87 229.27M347.23 229.93L351.43 234.13M347.23 234.13L351.43 229.93M349.8 230.6L354 234.8M349.8 234.8L354 230.6M352.37 231.23L356.57 235.43M352.37 235.43L356.57 231.23M354.93 231.87L359.13 236.07M354.93 236.07L359.13 231.87M357.5 232.5L361.7 236.7M357.5 236.7L361.7 232.5M327.9 223.7L332.1 227.9M327.9 227.9L332.1 223.7M331.15 225.8L335.35 230M331.15 230L335.35 225.8M334.4 227.9L338.6 232.1M334.4 232.1L338.6 227.9M336.97 228.67L341.17 232.87M336.97 232.87L341.17 228.67M339.53 229.43L343.73 233.63M339.53 233.63L343.73 229.43M342.1 230.2L346.3 234.4M342.1 234.4L346.3 230.2M344.67 230.87L348.87 235.07M344.67 235.07L348.87 230.87M347.23 231.53L351.43 235.73M347.23 235.73L351.43 231.53M349.8 232.2L354 236.4M349.8 236.4L354 232.2M352.37 232.83L356.57 237.03M352.37 237.03L356.57 232.83M354.93 233.47L359.13 237.67M354.93 237.67L359.13 233.47M357.5 234.1L361.7 238.3M357.5 238.3L361.7 234.1M365.4 236.4L369.6 240.6M365.4 240.6L369.6 236.4M366.62 236.59L370.82 240.79M366.62 240.79L370.82 236.59M367.84 236.78L372.04 240.98M367.84 240.98L372.04 236.78M369.07 236.97L373.27 241.17M369.07 241.17L373.27 236.97M370.29 237.16L374.49 241.36M370.29 241.36L374.49 237.16M371.51 237.34L375.71 241.54M371.51 241.54L375.71 237.34M372.73 237.53L376.93 241.73M372.73 241.73L376.93 237.53M373.96 237.72L378.16 241.92M373.96 241.92L378.16 237.72M375.18 237.91L379.38 242.11M375.18 242.11L379.38 237.91M376.4 238.1L380.6 242.3M376.4 242.3L380.6 238.1M377.4 238.9L381.6 243.1M377.4 243.1L381.6 238.9M379.37 239.3L383.57 243.5M379.37 243.5L383.57 239.3M381.33 239.7L385.53 243.9M381.33 243.9L385.53 239.7M383.3 240.1L387.5 244.3M383.3 244.3L387.5 240.1M384.98 240.7L389.18 244.9M384.98 244.9L389.18 240.7M386.66 241.3L390.86 245.5M386.66 245.5L390.86 241.3M388.34 241.9L392.54 246.1M388.34 246.1L392.54 241.9M390.02 242.5L394.22 246.7M390.02 246.7L394.22 242.5M391.7 243.1L395.9 247.3M391.7 247.3L395.9 243.1M435.2 246.4L438.8 250M435.2 250L438.8 246.4" stroke="#111111" stroke-width="1.1" fill="none"/>
<path d="M357.4 211.3L361.6 215.5M357.4 215.5L361.6 211.3M358.8 211.3L363 215.5M358.8 215.5L363 211.3M361.5 211.3L365.7 215.5M361.5 215.5L365.7 211.3M362.9 211.3L367.1 215.5M362.9 215.5L367.1 211.3M365.6 211.3L369.8 215.5M365.6 215.5L369.8 211.3M367 211.3L371.2 215.5M367 215.5L371.2 211.3M369.7 211.3L373.9 215.5M369.7 215.5L373.9 211.3M371.1 211.3L375.3 215.5M371.1 215.5L375.3 211.3M373.8 211.3L378 215.5M373.8 215.5L378 211.3M375.2 211.3L379.4 215.5M375.2 215.5L379.4 211.3M377.9 211.3L382.1 215.5M377.9 215.5L382.1 211.3M379.3 211.3L383.5 215.5M379.3 215.5L383.5 211.3M382 211.3L386.2 215.5M382 215.5L386.2 211.3M383.4 211.3L387.6 215.5M383.4 215.5L387.6 211.3M386.1 211.3L390.3 215.5M386.1 215.5L390.3 211.3M387.5 211.3L391.7 215.5M387.5 215.5L391.7 211.3M390.2 211.3L394.4 215.5M390.2 215.5L394.4 211.3M391.6 211.3L395.8 215.5M391.6 215.5L395.8 211.3M394.3 211.3L398.5 215.5M394.3 215.5L398.5 211.3M395.7 211.3L399.9 215.5M395.7 215.5L399.9 211.3M398.4 211.3L402.6 215.5M398.4 215.5L402.6 211.3M399.8 211.3L404 215.5M399.8 215.5L404 211.3M395.4 246L399.6 250.2M395.4 250.2L399.6 246M396.9 246L401.1 250.2M396.9 250.2L401.1 246M400 246L404.2 250.2M400 250.2L404.2 246M401.5 246L405.7 250.2M401.5 250.2L405.7 246M404.6 246L408.8 250.2M404.6 250.2L408.8 246M406.1 246L410.3 250.2M406.1 250.2L410.3 246M409.2 246L413.4 250.2M409.2 250.2L413.4 246M410.7 246L414.9 250.2M410.7 250.2L414.9 246M413.8 246L418 250.2M413.8 250.2L418 246M415.3 246L419.5 250.2M415.3 250.2L419.5 246M418.4 246L422.6 250.2M418.4 250.2L422.6 246M419.9 246L424.1 250.2M419.9 250.2L424.1 246M423 246L427.2 250.2M423 250.2L427.2 246M424.5 246L428.7 250.2M424.5 250.2L428.7 246M427.6 246L431.8 250.2M427.6 250.2L431.8 246M429.1 246L433.3 250.2M429.1 250.2L433.3 246" stroke="#111111" stroke-width="1.3" fill="none"/>
</svg></body></html>
